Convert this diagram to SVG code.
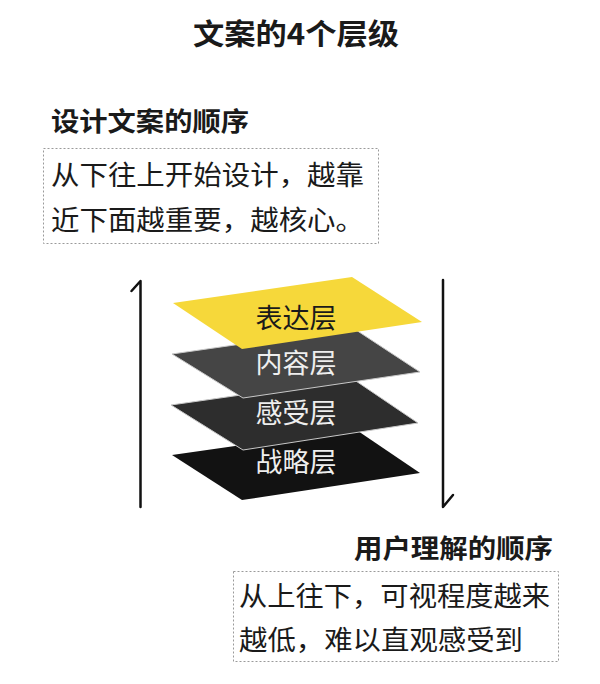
<svg xmlns="http://www.w3.org/2000/svg" width="600" height="684" viewBox="0 0 600 684">
<style>
text{font-family:"Noto Sans CJK SC","Noto Sans",sans-serif;fill:#1a1a1a}
.title{font-size:29px;font-weight:bold}
.head{font-size:26px;font-weight:bold}
.body{font-size:27px}
.lbl{font-size:27px;text-anchor:middle}
.lw{fill:#eeeeee}
.box{fill:none;stroke:#9a9a9a;stroke-width:1;stroke-dasharray:2 2}
.arr{fill:none;stroke:#111;stroke-width:2.5;stroke-linecap:round;stroke-linejoin:round}
.edge{stroke:#c8c8c8;stroke-width:1}
</style>
<rect width="600" height="684" fill="#ffffff"/>
<text class="title" x="193" y="45" textLength="206" lengthAdjust="spacingAndGlyphs">文案的4个层级</text>
<g id="design-order">
<text class="head" x="51" y="131" textLength="198" lengthAdjust="spacingAndGlyphs">设计文案的顺序</text>
<rect class="box" x="43.5" y="148.5" width="335" height="95"/>
<text class="body" x="51" y="185" textLength="313" lengthAdjust="spacingAndGlyphs">从下往上开始设计，越靠</text>
<text class="body" x="51" y="230" textLength="313" lengthAdjust="spacingAndGlyphs">近下面越重要，越核心。</text>
</g>
<g id="user-order">
<text class="head" x="354" y="558" textLength="199" lengthAdjust="spacingAndGlyphs">用户理解的顺序</text>
<rect class="box" x="233.5" y="571.5" width="325" height="90"/>
<text class="body" x="239" y="606" textLength="311" lengthAdjust="spacingAndGlyphs">从上往下，可视程度越来</text>
<text class="body" x="239" y="650" textLength="284" lengthAdjust="spacingAndGlyphs">越低，难以直观感受到</text>
</g>
<g id="connectors">
<path class="arr" d="M140.5 507 V281 L131.5 291"/>
<path class="arr" d="M443 280 V507 L453 495"/>
</g>
<g id="layer-strategy">
<polygon points="172,455 355,429 420,473 242,500" fill="#121212"/>
<text class="lbl lw" x="296" y="472">战略层</text>
</g>
<g id="layer-feeling">
<polygon class="edge" points="171,405 353,379 418,423 243,450" fill="#2d2d2d"/>
<text class="lbl lw" x="296" y="423">感受层</text>
</g>
<g id="layer-content">
<polygon class="edge" points="172,354 353,328 420,372 243,398" fill="#454545"/>
<text class="lbl lw" x="296" y="373">内容层</text>
</g>
<g id="layer-expression">
<polygon points="173,303 352,277 422,322 242,349" fill="#f6d83a"/>
<text class="lbl" x="296" y="328" fill="#222">表达层</text>
</g>
</svg>
